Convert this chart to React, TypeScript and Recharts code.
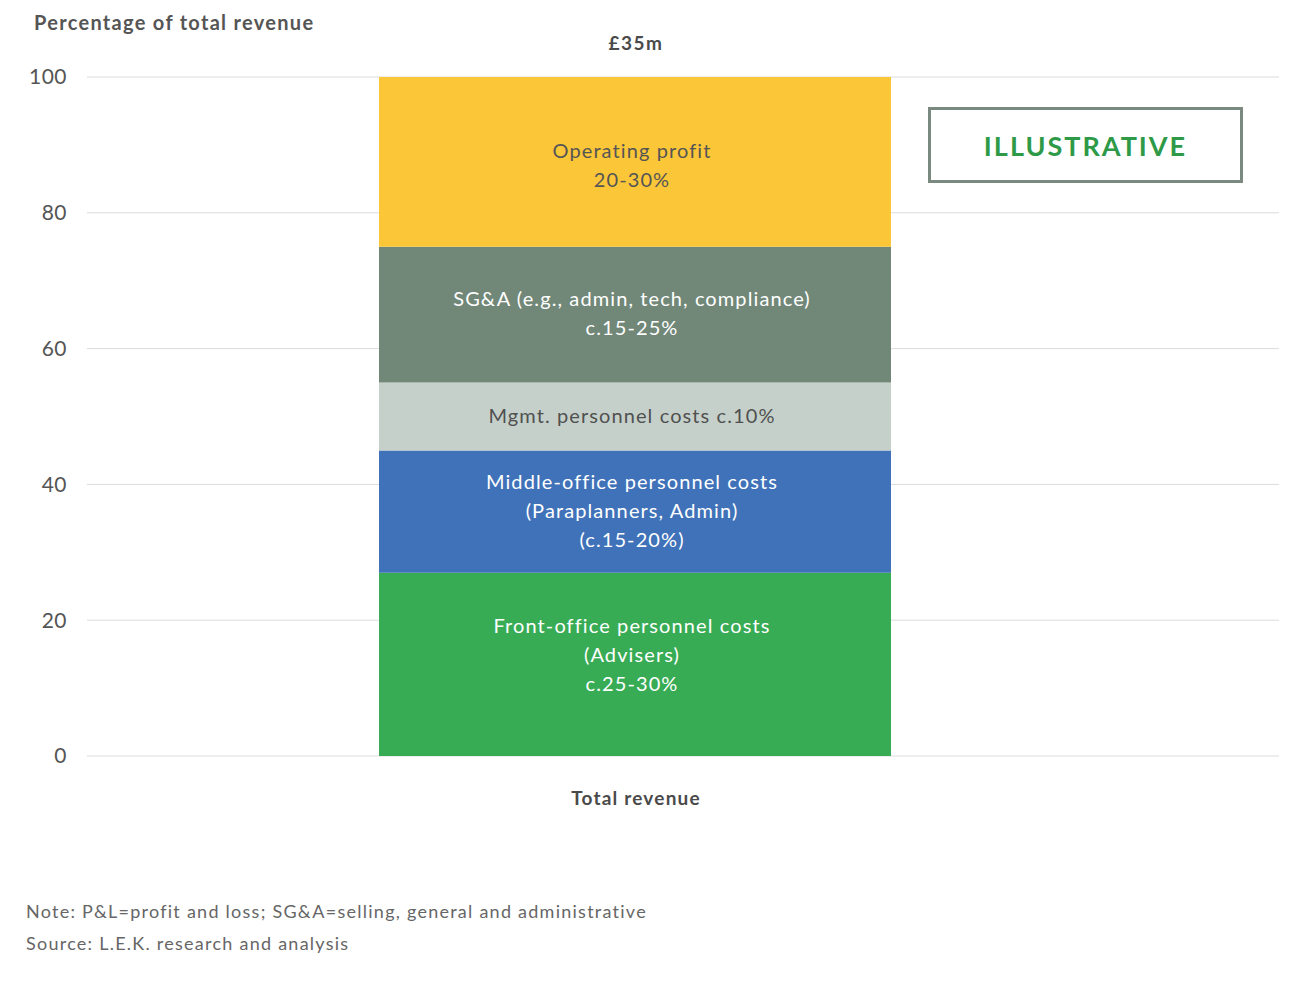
import React from 'react';
import { BarChart, Bar, XAxis, YAxis, CartesianGrid, LabelList } from 'recharts';

// chart values (percent of total revenue), bottom to top
const categories = ['Total revenue'];
const frontOffice = [27];
const middleOffice = [18];
const mgmtPersonnel = [10];
const sgaCosts = [20];
const operatingProfit = [25];
const totalRevenue = ['£35m'];
const yTicks = [0, 20, 40, 60, 80, 100];

const frontLines = ['Front-office personnel costs', '(Advisers)', 'c.25-30%'];
const middleLines = ['Middle-office personnel costs', '(Paraplanners, Admin)', '(c.15-20%)'];
const mgmtLines = ['Mgmt. personnel costs c.10%'];
const sgaLines = ['SG&A (e.g., admin, tech, compliance)', 'c.15-25%'];
const profitLines = ['Operating profit', '20-30%'];

const FONT = 'Lato, "Noto Sans", sans-serif';

const data = categories.map((name, i) => ({
  name,
  front: frontOffice[i],
  middle: middleOffice[i],
  mgmt: mgmtPersonnel[i],
  sga: sgaCosts[i],
  profit: operatingProfit[i],
  total: totalRevenue[i],
}));

const segmentLabel = (lines: string[], color: string, shift = 0) => (props: any) => {
  const { x, y, width, height } = props;
  const lh = 29;
  const cx = x + width / 2 - 3;
  const cy = y + height / 2 + shift - ((lines.length - 1) * lh) / 2;
  return (
    <text x={cx} y={cy} textAnchor="middle" dominantBaseline="central" fill={color}
      style={{ fontFamily: FONT, fontSize: 20, fontWeight: 400, letterSpacing: 1.1 }}>
      {lines.map((l, i) => (
        <tspan key={i} x={cx} y={cy + i * lh} dominantBaseline="central">{l}</tspan>
      ))}
    </text>
  );
};

const TotalLabel = (props: any) => {
  const { x, y, width, value } = props;
  return (
    <text x={x + width / 2 + 1} y={y - 35} textAnchor="middle" dominantBaseline="central"
      fill="#4a4a4a" style={{ fontFamily: FONT, fontSize: 19, fontWeight: 700, letterSpacing: 1.5 }}>
      {value}
    </text>
  );
};

const XTick = (props: any) => {
  const { x, y, payload } = props;
  return (
    <text x={x + 1} y={y + 33} textAnchor="middle" dominantBaseline="central" fill="#4a4a4a"
      style={{ fontFamily: FONT, fontSize: 19, fontWeight: 700, letterSpacing: 1.2 }}>
      {payload.value}
    </text>
  );
};

export default function App() {
  return (
    <div style={{ position: 'absolute', left: 0, top: 0, width: 1300, height: 1004, background: '#fff', fontFamily: FONT }}>
      <div style={{ position: 'absolute', left: 34, top: 10, fontSize: 20, fontWeight: 700, color: '#555', letterSpacing: 1.3 }}>
        Percentage of total revenue
      </div>
      <BarChart
        width={1300}
        height={1004}
        data={data}
        margin={{ top: 77, right: 21, left: 27, bottom: 188 }}
        barCategoryGap={0}
      >
        <CartesianGrid horizontal vertical={false} stroke="#dcdcdc" strokeWidth={1} />
        <XAxis
          dataKey="name"
          axisLine={false}
          tickLine={false}
          padding={{ left: 292, right: 388 }}
          tick={<XTick />}
          height={60}
          interval={0}
        />
        <YAxis
          domain={[0, 100]}
          ticks={yTicks}
          axisLine={false}
          tickLine={false}
          width={60}
          tickMargin={14}
          tick={{ fill: '#555', fontSize: 21, fontFamily: FONT, letterSpacing: 0.5 }}
        />
        <Bar dataKey="front" stackId="a" fill="#38AB55" isAnimationActive={false}
          label={segmentLabel(frontLines, '#ffffff', -10)} />
        <Bar dataKey="middle" stackId="a" fill="#3F72B8" isAnimationActive={false}
          label={segmentLabel(middleLines, '#ffffff', -2)} />
        <Bar dataKey="mgmt" stackId="a" fill="#C6D0CB" isAnimationActive={false}
          label={segmentLabel(mgmtLines, '#505050', -2)} />
        <Bar dataKey="sga" stackId="a" fill="#718778" isAnimationActive={false}
          label={segmentLabel(sgaLines, '#ffffff', -2)} />
        <Bar dataKey="profit" stackId="a" fill="#FBC638" isAnimationActive={false}
          label={segmentLabel(profitLines, '#555555', 3)}>
          <LabelList dataKey="total" content={<TotalLabel />} />
        </Bar>
      </BarChart>
      <div style={{
        position: 'absolute', left: 928, top: 107, width: 309, height: 70,
        border: '3px solid #7B8A81', display: 'flex', alignItems: 'center', justifyContent: 'center',
        color: '#2E9A48', fontSize: 27, fontWeight: 700, letterSpacing: 2,
        fontFamily: FONT,
      }}>
        ILLUSTRATIVE
      </div>
      <div style={{ position: 'absolute', left: 26, top: 895, fontSize: 18, color: '#666', lineHeight: '32px', letterSpacing: 1.25 }}>
        <div>Note: P&amp;L=profit and loss; SG&amp;A=selling, general and administrative</div>
        <div>Source: L.E.K. research and analysis</div>
      </div>
    </div>
  );
}
